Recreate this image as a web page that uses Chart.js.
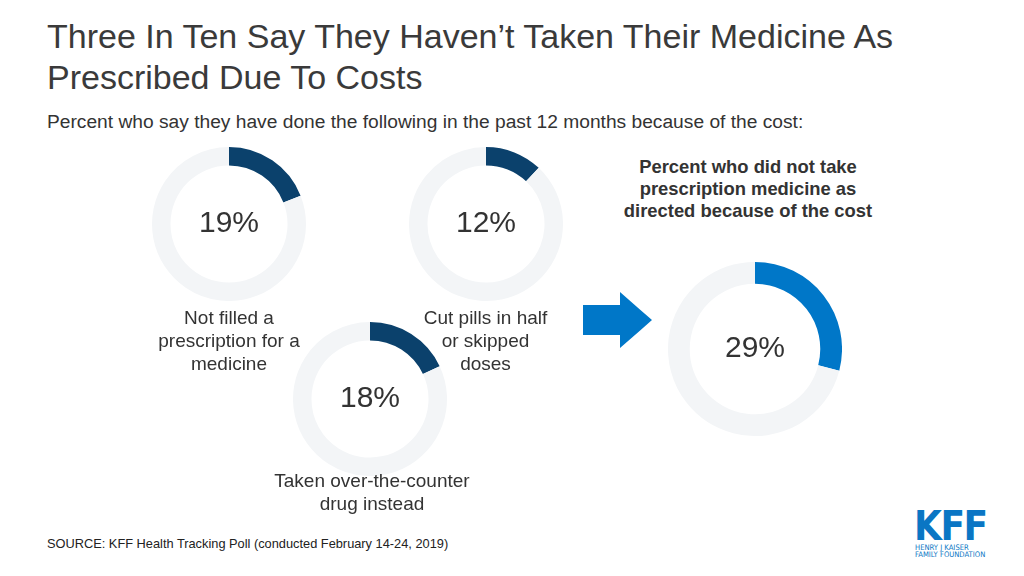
<!DOCTYPE html>
<html>
<head>
<meta charset="utf-8">
<script src="https://cdn.jsdelivr.net/npm/chart.js@4"></script>
<style>
  body { margin: 0; width: 1024px; height: 576px; background: #fff; position: relative; overflow: hidden;
         font-family: "Liberation Sans", Arial, sans-serif; color: #333; }
  .abs { position: absolute; }
  h1 { position: absolute; left: 47px; top: 16px; margin: 0; font-weight: normal; font-size: 34px;
       line-height: 41px; color: #3a3a3a; width: 900px; }
  .sub { left: 47px; top: 111px; font-size: 19.2px; color: #333; }
  .lbl { font-size: 19px; line-height: 23px; text-align: center; color: #333; }
  .note { font-size: 18.4px; line-height: 22px; font-weight: bold; text-align: center; color: #333; }
  .src { left: 47px; top: 536px; font-size: 12.8px; color: #222; }
  .logo-sm { left: 915px; color: #0a76c4; font-family: 'Liberation Sans Narrow', 'DejaVu Sans Condensed', sans-serif;
             font-size: 7.6px; line-height: 7px; white-space: nowrap; }
  canvas { position: absolute; }
</style>
</head>
<body>
<h1>Three In Ten Say They Haven’t Taken Their Medicine As Prescribed Due To Costs</h1>
<div class="abs sub">Percent who say they have done the following in the past 12 months because of the cost:</div>

<canvas id="c0"></canvas>
<canvas id="c1"></canvas>
<canvas id="c2"></canvas>
<canvas id="c3"></canvas>

<div class="abs lbl" style="left:129px; top:306px; width:200px;">Not filled a<br>prescription for a<br>medicine</div>
<div class="abs lbl" style="left:398px; top:306px; width:175px;">Cut pills in half<br>or skipped<br>doses</div>
<div class="abs lbl" style="left:242px; top:469px; width:260px;">Taken over-the-counter<br>drug instead</div>
<div class="abs note" style="left:598px; top:156px; width:300px;">Percent who did not take<br>prescription medicine as<br>directed because of the cost</div>

<svg class="abs" style="left:580px; top:290px;" width="75" height="62">
  <polygon points="3,15 40,15 40,2 72,30 40,58 40,45 3,45" fill="#0077c8"/>
</svg>

<div class="abs src">SOURCE: KFF Health Tracking Poll (conducted February 14-24, 2019)</div>

<div class="abs" style="left:914px; top:509px; color:#0a76c4; font-family:'DejaVu Sans Condensed','Liberation Sans Narrow',sans-serif; font-weight:bold; font-size:40px; line-height:34px; letter-spacing:-1.5px;">KFF</div>
<div class="abs logo-sm" style="top:544px;">HENRY J KAISER</div>
<div class="abs logo-sm" style="top:551px;">FAMILY FOUNDATION</div>

<script>
// ===============================
//  DỮ LIỆU
// ===============================
const labels = ["Not filled a prescription for a medicine", "Cut pills in half or skipped doses",
                "Taken over-the-counter drug instead", "Did not take prescription medicine as directed"];
const values = [19, 12, 18, 29];
const valueText = ["19%", "12%", "18%", "29%"];

const colors = ["#0b416c", "#0b416c", "#0b416c", "#0077c8"];
const trackColor = "#f3f5f7";

// vị trí: tâm x, tâm y, bán kính
const boxes = [
  { cx: 229, cy: 224, r: 77, cut: "76%", font: 30 },
  { cx: 486, cy: 224, r: 77, cut: "76%", font: 30 },
  { cx: 370, cy: 399, r: 77, cut: "76%", font: 30 },
  { cx: 755, cy: 349, r: 87, cut: "75%", font: 30 }
];

const centerText = {
  id: "centerText",
  afterDraw(chart, args, opts) {
    const { ctx, chartArea } = chart;
    ctx.save();
    ctx.fillStyle = "#333";
    ctx.font = opts.size + 'px "Liberation Sans", Arial, sans-serif';
    ctx.textAlign = "center";
    ctx.textBaseline = "middle";
    ctx.fillText(opts.text, (chartArea.left + chartArea.right) / 2, (chartArea.top + chartArea.bottom) / 2);
    ctx.restore();
  }
};

function createDonut(i) {
  const b = boxes[i];
  const el = document.getElementById("c" + i);
  el.width = b.r * 2;
  el.height = b.r * 2;
  el.style.left = (b.cx - b.r) + "px";
  el.style.top = (b.cy - b.r) + "px";
  el.style.width = b.r * 2 + "px";
  el.style.height = b.r * 2 + "px";

  new Chart(el, {
    type: "doughnut",
    data: {
      labels: [labels[i], ""],
      datasets: [{
        data: [values[i], 100 - values[i]],
        backgroundColor: [colors[i], trackColor],
        borderWidth: 0
      }]
    },
    options: {
      responsive: false,
      animation: false,
      cutout: b.cut,
      layout: { padding: 0 },
      plugins: {
        legend: { display: false },
        tooltip: { enabled: false },
        centerText: { text: valueText[i], size: b.font }
      }
    },
    plugins: [centerText]
  });
}

labels.forEach((_, i) => createDonut(i));
</script>
</body>
</html>
